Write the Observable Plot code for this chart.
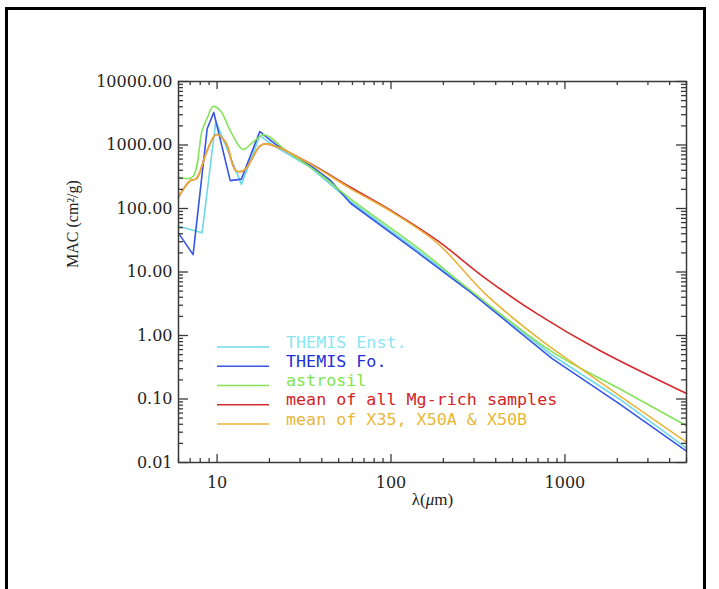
<!DOCTYPE html>
<html><head><meta charset="utf-8">
<script src="https://cdn.jsdelivr.net/npm/d3@7"></script>
<script src="https://cdn.jsdelivr.net/npm/@observablehq/plot@0.6"></script>
<style>
html,body{margin:0;padding:0;background:#fff;overflow:hidden;}
#wrap{position:relative;width:719px;height:589px;}
#frame{position:absolute;left:5px;top:7px;width:695px;height:600px;border:3px solid #000;border-bottom:none;pointer-events:none;}
</style></head><body><div id="wrap"><div id="frame"></div></div>
<script>
// ---- data ----
const seriesNames = ["THEMIS Enst.", "THEMIS Fo.", "astrosil", "mean of all Mg-rich samples", "mean of X35, X50A & X50B"];
const lineColors = ["#6fd9ea", "#3556e6", "#86e35a", "#d62b2b", "#e8b43a"];
const textColors = ["#8ae6f2", "#1f2fd6", "#7fe64a", "#d42424", "#e8b83a"];

const lamEnst = [6, 8.2, 9.84, 13.8, 17.6, 22.2, 34.5, 58.5, 142, 290, 841, 2048, 5000];
const macEnst = [52.6, 41.4, 2370, 240, 1400, 900, 440, 130, 22, 4.85, 0.493, 0.101, 0.0168];

const lamFo = [6, 7.28, 8.77, 9.57, 11.9, 13.8, 17.6, 22.2, 34.5, 44.9, 58.5, 142, 290, 841, 2048, 5000];
const macFo = [41, 18.8, 1800, 3250, 275, 290, 1630, 982, 475, 276, 121, 20.3, 4.69, 0.435, 0.0843, 0.0151];

const lamAstro = [6, 7.2, 8.2, 8.77, 9.5, 10.5, 11.9, 14.1, 16, 18.5, 20, 24.2, 37.7, 58.5, 142, 290, 841, 2048, 5000];
const macAstro = [311, 311, 1690, 2650, 4040, 3400, 1690, 849, 1100, 1450, 1350, 871, 373, 142, 24.2, 4.99, 0.557, 0.146, 0.038];

const lamMgRich = [6, 7.03, 7.6, 8.77, 9.89, 11.2, 12.8, 14.3, 17.6, 19, 22.2, 34.5, 58.5, 104, 186, 346, 704, 1567, 5000];
const macMgRich = [151, 276, 294, 818, 1462, 1107, 396, 400, 960, 1040, 930, 506, 216, 87, 30.9, 8.1, 2.13, 0.59, 0.122];

const lamX35 = [6, 7.03, 7.6, 8.77, 9.89, 11.2, 12.8, 14.3, 17.6, 19, 22.2, 34.5, 58.5, 104, 186, 346, 704, 1312, 5000];
const macX35 = [151, 276, 294, 818, 1462, 1107, 396, 400, 960, 1040, 930, 500, 206, 84, 28, 4.6, 0.906, 0.268, 0.0209];

const xTickLabels = [10, 100, 1000];
const yTickLabels = [0.01, 0.1, 1, 10, 100, 1000, 10000];

// ---- layout ----
const W = 719, H = 589;
const mL = 178, mR = 33, mT = 81, mB = 127;
const innerW = W - mL - mR, innerH = H - mT - mB;
const axisColor = "#3a3a3a";

const xMinor = [];
for (const e of [0, 1, 2, 3]) for (let k = 2; k <= 9; k++) { const v = k * 10 ** e; if (v >= 6 && v <= 5000) xMinor.push(v); }
const yMinor = [];
for (const e of [-2, -1, 0, 1, 2, 3]) for (let k = 2; k <= 9; k++) yMinor.push(k * 10 ** e);

const toRows = (lam, mac) => lam.map((l, i) => ({lam: l, mac: mac[i]}));
const series = [
  {rows: toRows(lamEnst, macEnst), curve: "linear"},
  {rows: toRows(lamFo, macFo), curve: "linear"},
  {rows: toRows(lamAstro, macAstro), curve: "catmull-rom"},
  {rows: toRows(lamMgRich, macMgRich), curve: "catmull-rom"},
  {rows: toRows(lamX35, macX35), curve: "catmull-rom"}
];

const plot = Plot.plot({
  width: W, height: H,
  marginLeft: mL, marginRight: mR, marginTop: mT, marginBottom: mB,
  style: {fontFamily: "DejaVu Serif", fontSize: "16px", color: "#222", background: "transparent"},
  x: {type: "log", domain: [6, 5000]},
  y: {type: "log", domain: [0.01, 10000]},
  marks: [
    ...series.map((s, i) => Plot.line(s.rows, {x: "lam", y: "mac", stroke: lineColors[i], strokeWidth: 1.6, curve: s.curve})),
    Plot.frame({stroke: axisColor, strokeWidth: 1.5}),
    // inward ticks on all four sides
    Plot.ruleX(xTickLabels, {insetTop: innerH - 8, stroke: axisColor, strokeWidth: 1.3}),
    Plot.ruleX(xTickLabels, {insetBottom: innerH - 8, stroke: axisColor, strokeWidth: 1.3}),
    Plot.ruleX(xMinor, {insetTop: innerH - 4, stroke: axisColor, strokeWidth: 1.3}),
    Plot.ruleX(xMinor, {insetBottom: innerH - 4, stroke: axisColor, strokeWidth: 1.3}),
    Plot.ruleY(yTickLabels, {insetRight: innerW - 10, stroke: axisColor, strokeWidth: 1.3}),
    Plot.ruleY(yTickLabels, {insetLeft: innerW - 10, stroke: axisColor, strokeWidth: 1.3}),
    Plot.ruleY(yMinor, {insetRight: innerW - 5, stroke: axisColor, strokeWidth: 1.3}),
    Plot.ruleY(yMinor, {insetLeft: innerW - 5, stroke: axisColor, strokeWidth: 1.3}),
    Plot.axisX({ticks: xTickLabels, tickSize: 0, tickPadding: 14, tickFormat: d => String(d), label: null, fontSize: 16}),
    Plot.axisY({ticks: yTickLabels, tickSize: 0, tickPadding: 6, tickFormat: d => d.toFixed(2), label: null, fontSize: 16}),
    Plot.text(["λ(μm)"], {frameAnchor: "bottom", dy: 42, fontSize: 17, fontFamily: "Liberation Serif", fill: "#222"}),
    Plot.text(["MAC (cm²/g)"], {frameAnchor: "left", dx: -106, dy: -4, rotate: -90, fontSize: 16, fontFamily: "Liberation Serif", fill: "#222"})
  ]
});
plot.style.position = "absolute";
plot.style.left = "0px";
plot.style.top = "0px";
document.getElementById("wrap").prepend(plot);

// italic mu in x title
d3.select(plot).selectAll("text").filter(function() { return this.textContent === "λ(μm)"; })
  .html('λ(<tspan font-style="italic">μ</tspan>m)');

// legend
const svg = d3.select(plot);
const lg = svg.append("g").attr("class", "legend").attr("text-anchor", "start");
seriesNames.forEach((name, i) => {
  const y = 347 + i * 19.25;
  lg.append("line").attr("x1", 217).attr("x2", 269).attr("y1", y).attr("y2", y)
    .attr("stroke", lineColors[i]).attr("stroke-width", 1.6);
  lg.append("text").attr("x", 286).attr("y", y - 4).attr("dominant-baseline", "middle")
    .attr("text-anchor", "start")
    .attr("font-family", "DejaVu Sans Mono").attr("font-size", 16.7)
    .attr("fill", textColors[i]).text(name);
});
</script>
</body></html>
